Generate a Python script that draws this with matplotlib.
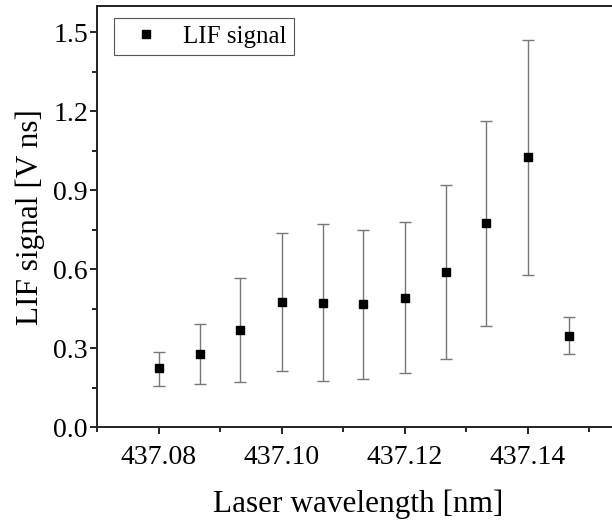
import matplotlib
matplotlib.use('Agg')
from matplotlib import pyplot as plt
from matplotlib.ticker import MultipleLocator
import numpy as np

plt.rcParams['font.family'] = ['Liberation Serif', 'DejaVu Serif']

# data
wavelength = [437.08, 437.0867, 437.0933, 437.10, 437.1067, 437.1133,
              437.12, 437.1267, 437.1333, 437.14, 437.1467]
signal = [0.225, 0.280, 0.369, 0.475, 0.474, 0.469, 0.493, 0.591, 0.776, 1.025, 0.349]
err_low = [0.159, 0.166, 0.172, 0.216, 0.175, 0.184, 0.208, 0.261, 0.384, 0.577, 0.278]
err_high = [0.288, 0.394, 0.567, 0.738, 0.772, 0.750, 0.780, 0.921, 1.165, 1.470, 0.419]

sig = np.array(signal)
yerr = [sig - np.array(err_low), np.array(err_high) - sig]

fig = plt.figure(figsize=(6.12, 5.2), dpi=100)
# axes runs a bit past the right edge of the figure (cropped like the original)
ax = fig.add_axes([0.1585, 0.178, 0.8546, 0.8105])

ax.errorbar(wavelength, signal, yerr=yerr, fmt='none', ecolor='#777777',
            elinewidth=1.0, capsize=4, capthick=1.0)
ax.plot(wavelength, signal, 's', color='black', ms=6, label='LIF signal')

ax.set_xlim(437.07, 437.155)
ax.set_ylim(0.0, 1.6)
ax.xaxis.set_minor_locator(MultipleLocator(0.01))
ax.yaxis.set_minor_locator(MultipleLocator(0.15))
ax.set_xticks([437.08, 437.10, 437.12, 437.14])
ax.set_xticklabels(['437.08', '437.10', '437.12', '437.14'])
ax.set_yticks([0.0, 0.3, 0.6, 0.9, 1.2, 1.5])
ax.set_yticklabels(['0.0', '0.3', '0.6', '0.9', '1.2', '1.5'])

ax.tick_params(which='major', direction='out', length=5, width=1.2, labelsize=20)
ax.tick_params(axis='x', which='major', pad=8)
ax.tick_params(axis='y', which='major', pad=1.5)
ax.tick_params(which='minor', direction='out', length=3.5, width=1.2)
ax.spines['right'].set_visible(False)
for s in ['left', 'bottom', 'top']:
    ax.spines[s].set_linewidth(1.4)
    ax.spines[s].set_color('#222222')

ax.set_xlabel('Laser wavelength [nm]', fontsize=22.5, labelpad=14)
ax.set_ylabel('LIF signal [V ns]', fontsize=22.5, labelpad=6)

leg = ax.legend(loc='upper left', fontsize=18, fancybox=False, framealpha=1,
                edgecolor='#555555', handletextpad=0.5, borderpad=0.3,
                bbox_to_anchor=(0.032, 0.9715), borderaxespad=0, handlelength=1.96)
leg.get_frame().set_linewidth(0.8)

fig.savefig('out.png', dpi=100)
